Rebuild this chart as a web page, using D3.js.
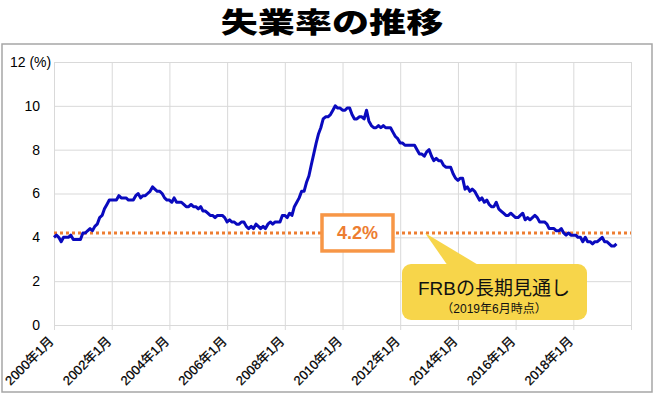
<!DOCTYPE html>
<html><head><meta charset="utf-8">
<script src="https://cdn.jsdelivr.net/npm/d3@7"></script>
<style>
html,body{margin:0;padding:0;background:#fff;}
svg{display:block;}
</style></head>
<body>
<svg id="c" width="654" height="394"></svg>
<script>
// ---- data ----
const startYear = 2000;
const unemployment = [
 4.0,4.1,4.0,3.8,4.0,4.0,4.0,4.1,3.9,3.9,3.9,3.9,
 4.2,4.2,4.3,4.4,4.3,4.5,4.6,4.9,5.0,5.3,5.5,5.7,
 5.7,5.7,5.7,5.9,5.8,5.8,5.8,5.7,5.7,5.7,5.9,6.0,
 5.8,5.9,5.9,6.0,6.1,6.3,6.2,6.1,6.1,6.0,5.8,5.7,
 5.7,5.6,5.8,5.6,5.6,5.6,5.5,5.4,5.4,5.5,5.4,5.4,
 5.3,5.4,5.2,5.2,5.1,5.0,5.0,4.9,5.0,5.0,5.0,4.9,
 4.7,4.8,4.7,4.7,4.6,4.6,4.7,4.7,4.5,4.4,4.5,4.4,
 4.6,4.5,4.4,4.5,4.4,4.6,4.7,4.6,4.7,4.7,4.7,5.0,
 5.0,4.9,5.1,5.0,5.4,5.6,5.8,6.1,6.1,6.5,6.8,7.3,
 7.8,8.3,8.7,9.0,9.4,9.5,9.5,9.6,9.8,10.0,9.9,9.9,
 9.8,9.8,9.9,9.9,9.6,9.4,9.4,9.5,9.5,9.4,9.8,9.3,
 9.1,9.0,9.0,9.1,9.0,9.1,9.0,9.0,9.0,8.8,8.6,8.5,
 8.3,8.3,8.2,8.2,8.2,8.2,8.2,8.0,7.8,7.8,7.7,7.9,
 8.0,7.7,7.5,7.6,7.5,7.5,7.3,7.2,7.2,7.2,6.9,6.7,
 6.6,6.7,6.7,6.2,6.3,6.1,6.2,6.1,5.9,5.7,5.8,5.6,
 5.7,5.5,5.4,5.4,5.6,5.3,5.2,5.1,5.0,5.0,5.1,5.0,
 4.9,4.9,5.0,5.1,4.8,4.9,4.8,4.9,5.0,4.9,4.7,4.7,
 4.7,4.6,4.4,4.4,4.4,4.3,4.3,4.4,4.2,4.1,4.2,4.1,
 4.1,4.1,4.0,4.0,3.8,4.0,3.8,3.8,3.7,3.8,3.8,3.9,
 4.0,3.8,3.8,3.7,3.6,3.6,3.7
];
const xTickYears = [2000,2002,2004,2006,2008,2010,2012,2014,2016,2018,2020];
const xTickLabels = ["2000年1月","2002年1月","2004年1月","2006年1月","2008年1月","2010年1月","2012年1月","2014年1月","2016年1月","2018年1月",""];
const yTicks = [0,2,4,6,8,10,12];
const frbLongRun = 4.2;
const title = "失業率の推移";
const calloutMain = "FRBの長期見通し";
const calloutSub = "（2019年6月時点）";

// ---- chart ----
const svg = d3.select("#c");
const jp = "'Liberation Sans','Noto Sans CJK JP',sans-serif";

svg.append("rect").attr("x",2).attr("y",44).attr("width",650).attr("height",348)
  .attr("fill","#fff").attr("stroke","#A6A6A6").attr("stroke-width",1.5);

svg.append("text").attr("transform","translate(332,33) scale(1.03,0.78)").attr("text-anchor","middle")
  .attr("font-family","'Noto Sans CJK JP',sans-serif").attr("font-weight",900)
  .attr("font-size",36).attr("fill","#000").text(title);

const x = d3.scaleTime().domain([new Date(2000,0,1), new Date(2020,0,1)]).range([54,631]);
const y = d3.scaleLinear().domain([0,12]).range([325,62]);

const data = unemployment.map((v,i)=>({d:new Date(startYear + Math.floor(i/12), i%12, 1), v}));

// horizontal grid + y labels
const yAx = svg.append("g").attr("transform","translate(54,0)")
  .call(d3.axisLeft(y).tickValues(yTicks).tickSize(-(631-54)).tickPadding(14)
    .tickFormat(d => d===12 ? "12 (%)" : d));
yAx.select(".domain").remove();
yAx.selectAll(".tick line").attr("stroke","#D9D9D9").attr("stroke-width",1);
yAx.selectAll(".tick text").attr("font-family",jp).attr("font-size",14).attr("fill","#000");
yAx.selectAll(".tick text").filter(d=>d===12).attr("text-anchor","start").attr("dx",-30);

// vertical grid
const vg = svg.append("g").attr("transform","translate(0,62)")
  .call(d3.axisBottom(x).tickValues(xTickYears.map(yy=>new Date(yy,0,1))).tickSize(325-62+5).tickFormat(""));
vg.select(".domain").remove();
vg.selectAll(".tick line").attr("stroke","#D9D9D9");

// x labels
const xAx = svg.append("g").attr("transform","translate(0,325)")
  .call(d3.axisBottom(x).tickValues(xTickYears.map(yy=>new Date(yy,0,1))).tickSize(0)
    .tickFormat((d,i)=>xTickLabels[i]));
xAx.select(".domain").attr("stroke","#D9D9D9");
xAx.selectAll(".tick text").attr("font-family",jp).attr("font-size",13).attr("fill","#000")
  .attr("stroke","#000").attr("stroke-width",0.25)
  .attr("text-anchor","end").attr("dy",0).attr("y",0)
  .attr("transform","translate(0,17) rotate(-45)");

// FRB line
svg.append("line").attr("x1",54).attr("x2",631).attr("y1",y(frbLongRun)).attr("y2",y(frbLongRun))
  .attr("stroke","#ED7D31").attr("stroke-width",3).attr("stroke-dasharray","3,3");

// data line
const line = d3.line().x(d=>x(d.d)).y(d=>y(d.v));
svg.append("path").datum(data).attr("d",line).attr("fill","none")
  .attr("stroke","#0A0ABE").attr("stroke-width",3).attr("stroke-linejoin","round");

// 4.2% box
const ly = y(frbLongRun);
svg.append("rect").attr("x",322).attr("y",ly-18).attr("width",71).attr("height",36)
  .attr("fill","#fff").attr("stroke","#F79646").attr("stroke-width",3.5);
svg.append("text").attr("x",357.5).attr("y",ly+6).attr("text-anchor","middle")
  .attr("font-family",jp).attr("font-weight","bold").attr("font-size",18).attr("fill","#ED7D31")
  .text(frbLongRun.toFixed(1)+"%");

// yellow callout
const cg = svg.append("g");
cg.append("path").attr("d",`M425,${ly} L448,266 L480,266 Z`).attr("fill","#F7D54A");
cg.append("rect").attr("x",402).attr("y",264).attr("width",185).attr("height",56).attr("rx",9)
  .attr("fill","#F7D54A");
cg.append("text").attr("x",494).attr("y",295).attr("text-anchor","middle")
  .attr("font-family",jp).attr("font-size",19).attr("fill","#111").text(calloutMain);
cg.append("text").attr("x",494).attr("y",313).attr("text-anchor","middle")
  .attr("font-family",jp).attr("font-size",12).attr("fill","#111").text(calloutSub);
</script>
</body></html>
